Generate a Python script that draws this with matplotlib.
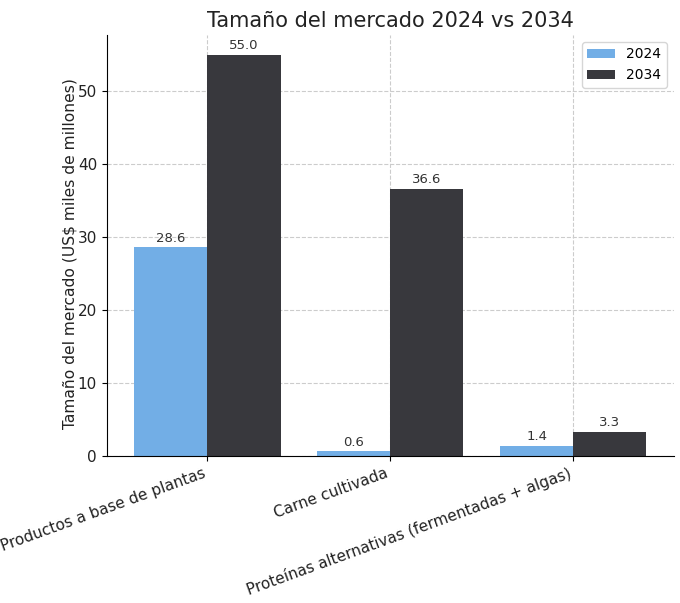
import matplotlib.pyplot as plt
import numpy as np

categories = ['Productos a base de plantas', 'Carne cultivada',
              'Proteínas alternativas (fermentadas + algas)']
values_2024 = [28.6, 0.6, 1.4]
values_2034 = [55.0, 36.6, 3.3]
series_labels = ['2024', '2034']

color_2024 = '#72aee6'
color_2034 = '#38383d'

fig = plt.figure(figsize=(6.8, 6.03), dpi=100)
ax = fig.add_axes([0.157, 0.244, 0.834, 0.698])

index = np.arange(len(categories))
bar_width = 0.4

b1 = ax.bar(index - bar_width / 2, values_2024, bar_width, color=color_2024,
            label=series_labels[0], zorder=2)
b2 = ax.bar(index + bar_width / 2, values_2034, bar_width, color=color_2034,
            label=series_labels[1], zorder=2)

for bars in (b1, b2):
    for rect in bars:
        h = rect.get_height()
        ax.annotate('{:.1f}'.format(h), xy=(rect.get_x() + rect.get_width() / 2, h),
                    xytext=(0, 2), textcoords='offset points',
                    ha='center', va='bottom', fontsize=9.5, color='#333333')

ax.spines['top'].set_visible(False)
ax.spines['right'].set_visible(False)
ax.grid(True, linestyle='--', color='#cccccc', linewidth=0.8, zorder=0)
ax.set_axisbelow(True)

ax.set_xticks(index)
ax.set_xticklabels(categories, rotation=20, ha='right', fontsize=11, color='#222222')
ax.tick_params(axis='y', labelsize=11, labelcolor='#222222')
ax.set_xlim(-0.55, 2.55)

ax.set_title('Tamaño del mercado 2024 vs 2034', fontsize=15, color='#222222')
ax.set_ylabel('Tamaño del mercado (US$ miles de millones)', fontsize=11.2,
              color='#222222')
ax.yaxis.set_label_coords(-0.052, 0.48)
ax.legend(loc='upper right', fontsize=10)

plt.savefig('out.png', dpi=100)
